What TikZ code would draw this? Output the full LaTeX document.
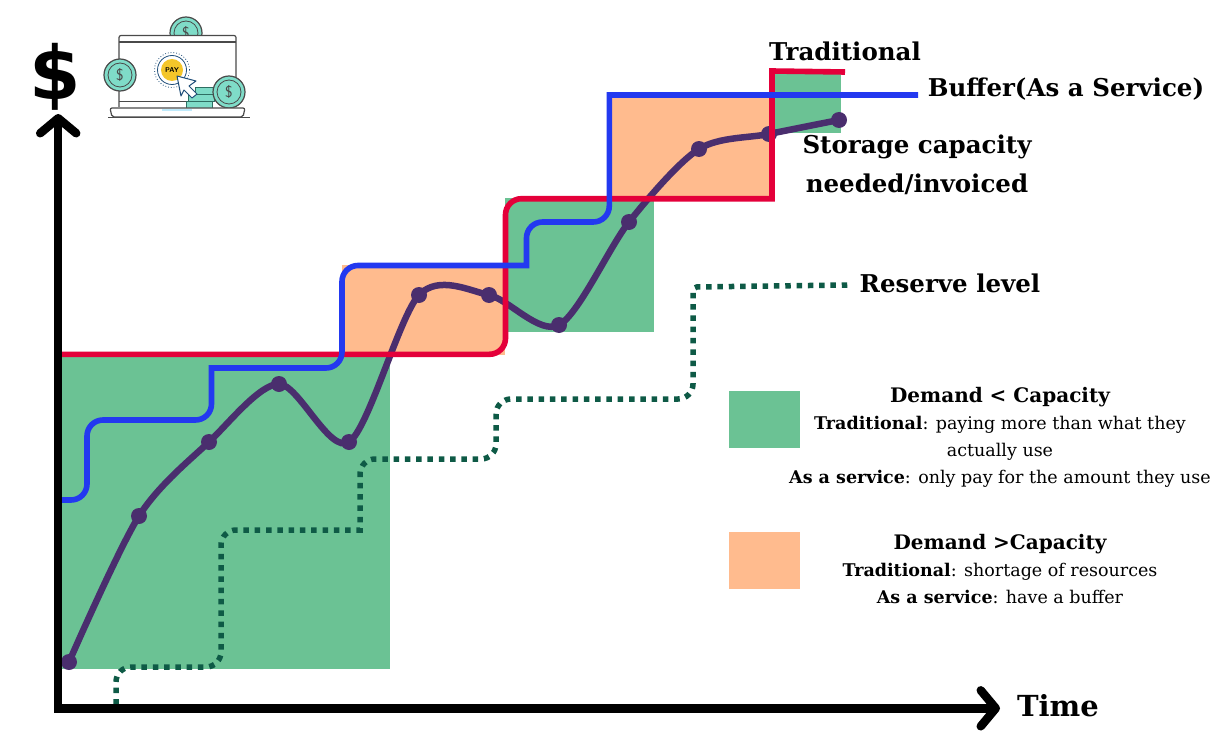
\documentclass[tikz,border=0pt]{standalone}
\usepackage{fontspec}
\setmainfont{DejaVu Serif}
\newfontfamily\dollarfont{DejaVu Sans}
\usetikzlibrary{arrows.meta,positioning}
\definecolor{demandgreen}{HTML}{6BC294}
\definecolor{demandorange}{HTML}{FFBB8E}
\definecolor{tradred}{HTML}{E4003A}
\definecolor{bufferblue}{HTML}{2339F0}
\definecolor{usedpurple}{HTML}{4A2E6E}
\definecolor{reservegreen}{HTML}{0E5A46}
\definecolor{cointeal}{HTML}{7FDCC8}
\definecolor{coinedge}{HTML}{2E6E62}
\definecolor{iconline}{HTML}{4A4A4A}
\definecolor{payyellow}{HTML}{F4C62A}
\definecolor{paydots}{HTML}{1F4E79}
\tikzset{
  axisline/.style={draw=black, line width=8.5pt, {Straight Barb[length=15pt, width=36pt, line width=8.5pt, round]}-{Straight Barb[length=15pt, width=36pt, line width=8.5pt, round]}},
  tradline/.style={draw=tradred, line width=5.6pt, rounded corners=16pt},
  bufferline/.style={draw=bufferblue, line width=5.6pt, rounded corners=16pt},
  reserveline/.style={draw=reservegreen, line width=5.5pt, dash pattern=on 5.5pt off 5.8pt, rounded corners=15pt},
  usedline/.style={draw=usedpurple, line width=6.5pt},
  useddot/.style={circle, fill=usedpurple, inner sep=0pt, minimum size=16pt},
  areabox/.style={inner sep=0pt, anchor=north west},
  headlabel/.style={font=\bfseries\fontsize{24.5}{28}\selectfont, inner sep=0pt},
  legendtext/.style={font=\fontsize{17.5}{27}\selectfont, align=center, inner sep=0pt},
  coin/.style={circle, draw=iconline, line width=1.2pt, fill=cointeal, inner sep=0pt, minimum size=32pt, font=\fontsize{16}{16}\selectfont\sffamily, text=iconline}
}
\newcommand{\legendhead}[1]{{\bfseries\fontsize{20}{27}\selectfont #1}}
\begin{document}
\begin{tikzpicture}[x=1pt, y=-1pt]
  \useasboundingbox (0,0) rectangle (1220,741);
  % areas between capacity and demand
  \fill[demandgreen] (62,355) rectangle (390,669);
  \fill[demandorange] (342,265) rectangle (505,355);
  \fill[demandgreen] (505,198) rectangle (654,332);
  \fill[demandorange] (610,95) rectangle (772,198);
  \fill[demandgreen] (772,70) rectangle (841,133);

  % reserve level
  \coordinate (R0) at (116,704.5);
  \coordinate (R1) at (848,285);
  \draw[reserveline] (R0) -- (116,667) -- (221,667) -- (221,530) [sharp corners] -- (360,530) [rounded corners=15pt] -- (360,459)
    -- (496,459) -- (496,399) -- (693,399) [rounded corners=4pt] -- (693,287) -- (R1);

  % demand curve
  \foreach \i/\x/\y in {1/69/662, 2/139/516, 3/209/442, 4/279/384, 5/349/442, 6/419/295,
                        7/489/295, 8/559/325, 9/629/222, 10/699/149, 11/769/134, 12/839/120} {
    \node[useddot] (D\i) at (\x,\y) {};
  }
  \draw[usedline] plot[smooth, tension=0.5] coordinates {(D1.center) (D2.center) (D3.center) (D4.center)
    (D5.center) (D6.center) (D7.center) (D8.center) (D9.center) (D10.center) (D11.center) (D12.center)};

  % traditional capacity
  \coordinate (T0) at (55,354.3);
  \coordinate (T1) at (845,72);
  \draw[tradline] (T0) -- (505.5,354.3) -- (505.5,198.7) [sharp corners] -- (772,198.7) -- (772,71) -- (T1);

  % buffer as a service
  \coordinate (B0) at (58,500);
  \coordinate (B1) at (918,95);
  \draw[bufferline] (B0) -- (87,500) -- (87,420) -- (211.5,420) [sharp corners] -- (211.5,368) [rounded corners=16pt] -- (342,368) -- (342,265.5)
    [sharp corners] -- (526.5,265.5) [rounded corners=16pt] -- (526.5,222) -- (609.3,222) [sharp corners] -- (609.3,95) -- (B1);

  % axes
  \coordinate (O) at (58.2,708.3);
  \coordinate (Ytop) at (58.2,114);
  \coordinate (Xend) at (1000,708.3);
  \draw[axisline] (Ytop) -- (O) -- (Xend);
  \node[inner sep=0pt, font=\dollarfont\bfseries\fontsize{74}{74}\selectfont] (dollar) at (55.5,77) {\$};
  \node[font=\bfseries\fontsize{29}{30}\selectfont, inner sep=0pt] (time) at (1058,706) {Time};

  % labels
  \node[headlabel] (tradlabel) at (845,51) {Traditional};
  \node[headlabel] (bufflabel) at (1066,89) {Buffer(As a Service)};
  \node[headlabel, align=center, font=\bfseries\fontsize{24.5}{39}\selectfont] (needlabel) at (917,165) {Storage capacity\\needed/invoiced};
  \node[headlabel] (reservelabel) at (950,283) {Reserve level};

  % legend
  \node[areabox, fill=demandgreen, minimum width=71pt, minimum height=57pt] (legA) at (729,391) {};
  \node[areabox, fill=demandorange, minimum width=71pt, minimum height=57pt] (legB) at (729,532) {};
  \node[legendtext] (textA) at (1000,437.5) {\legendhead{Demand < Capacity}\\\textbf{Traditional}: paying more than what they\\actually use\\\textbf{As a service}: only pay for the amount they use};
  \node[legendtext] (textB) at (1000,569) {\legendhead{Demand >Capacity}\\\textbf{Traditional}: shortage of resources\\\textbf{As a service}: have a buffer};

  % payment icon
  \node[coin] (coinT) at (186,33) {\$};
  \draw[iconline, line width=0.8pt] (coinT) circle (12pt);
  \fill[white] (119,35) rectangle (236,107);
  \draw[iconline, line width=1.2pt, rounded corners=2pt] (119,107) -- (119,35.5) -- (236,35.5) -- (236,107);
  \draw[iconline, line width=1.2pt] (119,42) -- (236,42);
  \draw[iconline, line width=1pt] (119,102) -- (187,102);
  \node[coin] (coinL) at (120,75) {\$};
  \draw[iconline, line width=0.8pt] (coinL) circle (12pt);
  \foreach \y/\x in {87/195,94/188,101/186} {
    \fill[cointeal, draw=coinedge, line width=0.6pt] (\x,\y) rectangle (\x+26,\y+7);
  }
  \node[coin] (coinR) at (229,92) {\$};
  \draw[iconline, line width=0.8pt] (coinR) circle (12pt);
  \draw[iconline, line width=1.2pt, fill=white, rounded corners=2pt] (110,108) -- (245,108) -- (243,117) -- (112,117) -- cycle;
  \fill[cyan!25] (162,108.6) rectangle (192,111);
  \draw[iconline, line width=1pt] (108,117.5) -- (250,117.5);
  \node[circle, fill=payyellow, inner sep=0pt, minimum size=22pt, font=\sffamily\bfseries\fontsize{7}{7}\selectfont] (pay) at (172,70) {PAY};
  \draw[paydots, line width=0.8pt] (pay) circle (14.5pt);
  \draw[paydots, line width=0.8pt, dotted] (pay) circle (17.5pt);
  \fill[white, draw=paydots, line width=1pt, line join=round] (177,76) -- (196,81) -- (189,86) -- (197,94) -- (192,98) -- (184,90) -- (181,96) -- cycle;
\end{tikzpicture}
\end{document}
